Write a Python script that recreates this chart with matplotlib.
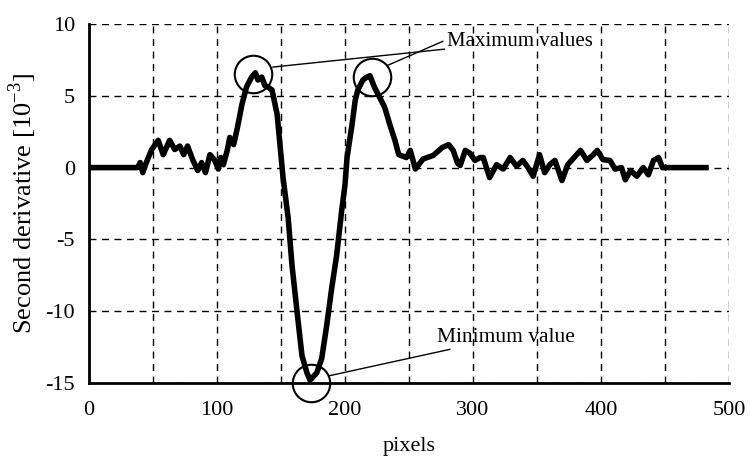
import matplotlib.pyplot as plt
from matplotlib.ticker import MultipleLocator

# Perfil de la segunda derivada
pixels = [0, 38, 40, 42, 45, 49, 54, 58, 63, 67, 71, 74, 77, 81, 85, 88, 91, 94.5, 98,
          101, 103, 105, 108, 110, 113, 116, 119.5, 123, 127, 130, 132, 135, 137.5, 140,
          143, 147, 151.6, 155.6, 158.6, 162.5, 166.4, 170.3, 172.7, 177.9, 181.8, 185.7,
          189.6, 193.5, 197.4, 200, 201.6, 205.5, 208, 210, 214, 217, 219.5, 223, 227, 231,
          235, 239, 242, 245, 248, 251, 255, 261, 269, 276, 281, 284.5, 288, 290, 294,
          297.6, 301.5, 305.5, 308, 313, 318.4, 323.6, 329, 334, 339, 343, 347, 352, 356,
          360, 364, 369.5, 374, 380, 384, 389, 394, 397, 401.6, 407, 411, 416, 419, 423,
          428, 433, 437, 441, 445, 448, 482]
second_deriv = [0, 0, 0.35, -0.35, 0.4, 1.26, 1.9, 0.9, 1.9, 1.26, 1.5, 0.9, 1.5, 0.55, -0.2,
                0.35, -0.35, 0.9, 0.55, -0.1, 0.7, 0.2, 1.2, 2.1, 1.6, 2.8, 4.4, 5.6, 6.3,
                6.6, 6.1, 6.3, 5.7, 5.6, 5.4, 3.7, -0.7, -3.5, -6.8, -10, -13.1, -14.3,
                -14.8, -14.3, -13.3, -11, -8.4, -6.1, -3.0, -1.2, 0.7, 3.0, 4.7, 5.4, 6.1,
                6.3, 6.4, 5.6, 4.9, 4.2, 3.0, 1.9, 0.9, 0.8, 0.7, 1.2, -0.1, 0.6, 0.85, 1.4,
                1.6, 1.2, 0.3, 0.15, 1.2, 1.0, 0.5, 0.7, 0.7, -0.7, 0.2, -0.1, 0.7, 0.1, 0.5,
                0, -0.6, 0.9, -0.35, 0.2, 0.5, -0.9, 0.2, 0.8, 1.2, 0.5, 0.9, 1.2, 0.55, 0.5,
                -0.1, 0, -0.85, -0.2, -0.6, 0, -0.5, 0.5, 0.7, 0, 0]

# Puntos marcados con círculos (máximos y mínimo)
max_x = [128, 221]
max_y = [6.5, 6.3]
min_x = [173.4]
min_y = [-15]


def main():
    plt.rcParams['font.family'] = ['Liberation Serif', 'DejaVu Serif']
    plt.rcParams['mathtext.fontset'] = 'custom'
    plt.rcParams['mathtext.rm'] = 'Liberation Serif'
    plt.rcParams['axes.unicode_minus'] = False

    fig = plt.figure(figsize=(7.51, 4.59), dpi=100)
    ax = fig.add_axes([0.1185, 0.1656, 0.8522, 0.7821])

    ax.plot(pixels, second_deriv, color='black', linewidth=4, zorder=3,
            solid_joinstyle='round')

    circ = dict(marker='o', markersize=27, fillstyle='none', color='black',
                markeredgewidth=1.5, linestyle='none', clip_on=False, zorder=4)
    ax.plot(max_x, max_y, **circ)
    ax.plot(min_x, min_y, **circ)

    line = dict(arrowstyle='-', color='black', lw=1, shrinkA=0, shrinkB=0)
    ax.annotate('Maximum values', xy=(143.5, 7.0), xytext=(280, 8.8),
                fontsize=15, va='center', ha='left', arrowprops=line)
    ax.annotate('', xy=(232.8, 7.1), xytext=(276.6, 8.8), arrowprops=line)
    ax.annotate('Minimum value', xy=(187.5, -14.5), xytext=(272, -11.8),
                fontsize=15.5, va='center', ha='left', arrowprops=line)

    ax.set_xlim(0, 500)
    ax.set_ylim(-15, 10)
    ax.xaxis.set_major_locator(MultipleLocator(100))
    ax.xaxis.set_minor_locator(MultipleLocator(50))
    ax.yaxis.set_major_locator(MultipleLocator(5))
    ax.grid(True, which='both', axis='x', color='black', linestyle=(0, (5, 4)), linewidth=1)
    ax.grid(True, which='major', axis='y', color='black', linestyle=(0, (5, 4)), linewidth=1)
    ax.set_axisbelow(True)

    for side in ['top', 'right']:
        ax.spines[side].set_visible(False)
    for side in ['left', 'bottom']:
        ax.spines[side].set_linewidth(2)
    ax.tick_params(axis='x', which='both', length=0, labelsize=16, pad=13)
    ax.tick_params(axis='y', which='both', length=0, labelsize=16, pad=10)

    ax.set_xlabel('pixels', fontsize=16, labelpad=12)
    ax.set_ylabel('Second derivative [10$^{-3}$]', fontsize=19, labelpad=5)

    plt.savefig('out.png', dpi=100)


if __name__ == "__main__":
    main()
